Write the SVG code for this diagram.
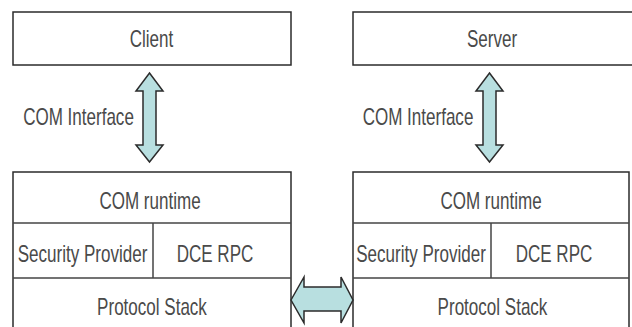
<svg xmlns="http://www.w3.org/2000/svg" width="632" height="327" viewBox="0 0 632 327">
  <style>
    .box { fill: #ffffff; stroke: #2b2b2b; stroke-width: 1.5; }
    .sep { stroke: #444444; stroke-width: 1.5; fill: none; }
    .lbl { font-family: "Liberation Sans", Arial, sans-serif; font-size: 24px; fill: #4a4a4a; text-anchor: middle; }
    .arrow { fill: #b8dfe0; stroke: #2b2b2b; stroke-width: 1.5; stroke-linejoin: miter; }
  </style>
  <rect width="632" height="327" fill="#ffffff"/>

  <!-- Client side -->
  <g id="client">
    <rect class="box" x="13" y="12" width="278" height="53"/>
    <text class="lbl" transform="translate(151.5,47) scale(0.71,1)">Client</text>
  </g>
  <g id="client-stack">
    <rect class="box" x="13" y="172" width="278" height="160"/>
    <line class="sep" x1="13" y1="223" x2="291" y2="223"/>
    <line class="sep" x1="13" y1="278" x2="291" y2="278"/>
    <line class="sep" x1="153" y1="223" x2="153" y2="278"/>
    <text class="lbl" transform="translate(150,209) scale(0.71,1)">COM runtime</text>
    <text class="lbl" transform="translate(82.5,262) scale(0.71,1)">Security Provider</text>
    <text class="lbl" transform="translate(215,262) scale(0.71,1)">DCE RPC</text>
    <text class="lbl" transform="translate(152,315) scale(0.71,1)">Protocol Stack</text>
  </g>

  <!-- Server side -->
  <g id="server">
    <rect class="box" x="353" y="12" width="290" height="53"/>
    <text class="lbl" transform="translate(492,47) scale(0.71,1)">Server</text>
  </g>
  <g id="server-stack">
    <rect class="box" x="353" y="172" width="276" height="160"/>
    <line class="sep" x1="353" y1="223" x2="629" y2="223"/>
    <line class="sep" x1="353" y1="278" x2="629" y2="278"/>
    <line class="sep" x1="491" y1="223" x2="491" y2="278"/>
    <text class="lbl" transform="translate(491,209) scale(0.71,1)">COM runtime</text>
    <text class="lbl" transform="translate(421,262) scale(0.71,1)">Security Provider</text>
    <text class="lbl" transform="translate(554,262) scale(0.71,1)">DCE RPC</text>
    <text class="lbl" transform="translate(492.5,315) scale(0.71,1)">Protocol Stack</text>
  </g>

  <!-- Connectors: block double arrows -->
  <g id="connectors">
    <g id="client-com-interface">
      <polygon class="arrow" points="149.5,73 163,91 156,91 156,145 163,145 149.5,162 136,145 143,145 143,91 136,91"/>
      <text class="lbl" transform="translate(78.5,125) scale(0.71,1)">COM Interface</text>
    </g>
    <g id="server-com-interface">
      <polygon class="arrow" points="489.5,73 503,91 496,91 496,145 503,145 489.5,162 476,145 483,145 483,91 476,91"/>
      <text class="lbl" transform="translate(418,125) scale(0.71,1)">COM Interface</text>
    </g>
    <polygon id="protocol-link" class="arrow" points="291,300 304,277 304,287 341,287 341,277 353,300 341,323 341,311 304,311 304,323"/>
  </g>
</svg>
